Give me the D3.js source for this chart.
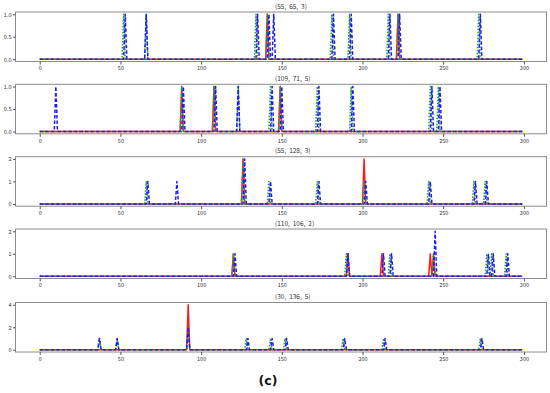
<!DOCTYPE html>
<html><head><meta charset="utf-8">
<script src="https://cdn.jsdelivr.net/npm/d3@7"></script>
<style>body{margin:0;background:#fff}svg{display:block}</style>
</head><body>
<svg id="c" width="550" height="393"></svg>
<script>
// ---------- DATA ----------
const N = 300;                       // samples 0..299
const xTicks = [0, 50, 100, 150, 200, 250, 300];
const titles = ["(55, 65, 3)", "(109, 71, 5)", "(55, 128, 3)", "(110, 106, 2)", "(30, 136, 5)"];
const yTickSets = [[0, 0.5, 1], [0, 0.5, 1], [0, 1, 2], [0, 1, 2], [0, 2, 4]];
const yTickFmt = [".1f", ".1f", "d", "d", "d"];
// peaks as [index, value]; all other samples are 0
const p1Red   = [[141,1],[222,1]];
const p1Green = [[52,1],[66,1],[134,1],[141,1],[181,1],[192,1],[216,1],[222,1],[272,1]];
const p1Blue  = [[53,1],[66,1],[135,1],[142,1],[145,1],[182,1],[193,1],[217,1],[223,1],[273,1]];
const p2Red   = [[88,1],[108,1],[149,1]];
const p2Green = [[88,1],[108,1],[123,1],[143,1],[149,1],[172,1],[193,1],[242,1],[247,1]];
const p2Blue  = [[10,1],[89,1],[109,1],[123,1],[144,1],[150,1],[173,1],[194,1],[243,1],[248,1]];
const p3Red   = [[126,2],[201,2]];
const p3Green = [[66,1],[126,2],[142,1],[172,1],[201,1],[241,1],[269,1],[276,1]];
const p3Blue  = [[67,1],[85,1],[127,2],[143,1],[173,1],[202,1],[242,1],[270,1],[277,1]];
const p4Red   = [[120,1],[191,1],[212,1],[242,1],[244,1]];
const p4Green = [[120,1],[190,1],[217,1],[244,1],[277,1],[280,1],[289,1]];
const p4Blue  = [[121,1],[191,1],[213,1],[218,1],[245,2],[278,1],[281,1],[290,1]];
const p5Red   = [[92,4]];
const p5Green = [[37,1],[48,1],[92,2],[128,1],[143,1],[152,1],[188,1],[213,1],[273,1]];
const p5Blue  = [[37,1],[48,1],[92,2],[129,1],[144,1],[153,1],[189,1],[214,1],[274,1]];
const panelsRed   = [p1Red, p2Red, p3Red, p4Red, p5Red];
const panelsGreen = [p1Green, p2Green, p3Green, p4Green, p5Green];
const panelsBlue  = [p1Blue, p2Blue, p3Blue, p4Blue, p5Blue];

// ---------- LAYOUT ----------
const svg = d3.select("#c");
const frameL = 15.5, frameR = 546.5;
const frameTops = [12, 84.3, 156.7, 229, 302.5];
const frameH = 49.5;
const font = "'Noto Sans CJK SC', 'DejaVu Sans', sans-serif";

function toSeries(peaks) {
  const m = new Map(peaks);
  return d3.range(N).map(i => [i, m.has(i) ? m.get(i) : 0]);
}

const x = d3.scaleLinear().domain([-15, 314]).range([frameL, frameR]);

titles.forEach((t, k) => {
  const top = frameTops[k], bot = top + frameH;
  const series = [toSeries(panelsRed[k]), toSeries(panelsGreen[k]), toSeries(panelsBlue[k])];
  const ymax = d3.max(series.flat(), d => d[1]);
  const pad = 0.05 * ymax;
  const y = d3.scaleLinear().domain([-pad, ymax + pad]).range([bot, top]);
  const g = svg.append("g");

  const clipId = "clip" + k;
  g.append("clipPath").attr("id", clipId).append("rect")
    .attr("x", frameL).attr("y", top).attr("width", frameR - frameL).attr("height", frameH);

  const line = d3.line().x(d => x(d[0])).y(d => y(d[1]));
  const styles = [
    {c: "#ff1a1a", dash: null, w: 1.5},
    {c: "#2a9a2a", dash: "1.6,1.4", w: 1.5},
    {c: "#1a1aff", dash: "3.5,2", w: 1.5}
  ];
  series.forEach((s, i) => {
    g.append("path").datum(s).attr("d", line)
      .attr("clip-path", `url(#${clipId})`)
      .attr("fill", "none").attr("stroke", styles[i].c)
      .attr("stroke-width", styles[i].w)
      .attr("stroke-dasharray", styles[i].dash)
      .attr("stroke-linejoin", "round");
  });

  // frame
  g.append("rect").attr("x", frameL).attr("y", top).attr("width", frameR - frameL).attr("height", frameH)
    .attr("fill", "none").attr("stroke", "#8c8c8c").attr("stroke-width", 1);

  // x axis
  const xa = g.append("g").attr("transform", `translate(0,${bot})`)
    .call(d3.axisBottom(x).tickValues(xTicks).tickSize(3).tickPadding(2));
  xa.select(".domain").remove();
  xa.selectAll("line").attr("stroke", "#555");
  xa.selectAll("text").attr("font-family", font).attr("font-size", 5.5).attr("fill", "#333");

  // y axis
  const ya = g.append("g").attr("transform", `translate(${frameL},0)`)
    .call(d3.axisLeft(y).tickValues(yTickSets[k]).tickFormat(d3.format(yTickFmt[k])).tickSize(2.5).tickPadding(1.5));
  ya.select(".domain").remove();
  ya.selectAll("line").attr("stroke", "#555");
  ya.selectAll("text").attr("font-family", font).attr("font-size", 5.5).attr("fill", "#333");

  // title
  g.append("text").attr("x", 275).attr("y", top - 3.5)
    .attr("font-family", font).attr("font-size", 6.5).attr("fill", "#333")
    .attr("xml:space", "preserve").style("white-space", "pre")
    .text(t.replace(/, /g, ",  "));
});

svg.append("text").attr("x", 268).attr("y", 385).attr("text-anchor", "middle")
  .attr("font-family", "'DejaVu Sans', sans-serif").attr("font-weight", "bold")
  .attr("font-size", 12.5).attr("fill", "#111").text("(c)");
</script>
</body></html>
